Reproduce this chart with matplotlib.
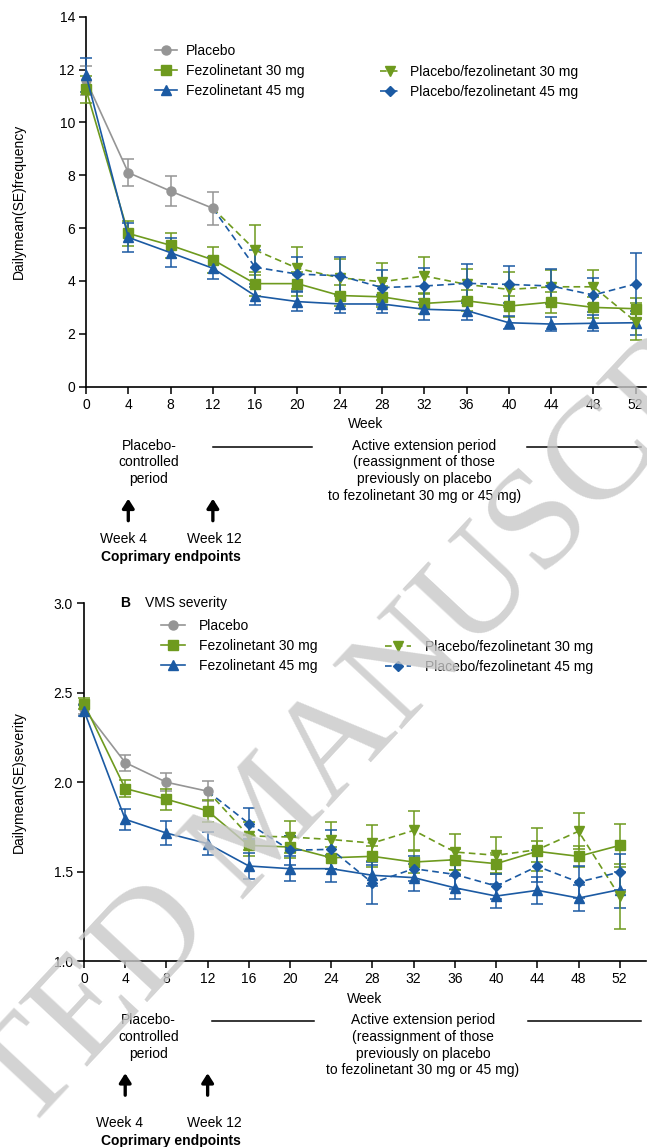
import matplotlib
matplotlib.use("Agg")
import matplotlib.pyplot as plt
from matplotlib.transforms import offset_copy

plt.rcParams["font.family"] = ["Liberation Sans", "DejaVu Sans"]
plt.rcParams["font.size"] = 10

weeks = [0, 4, 8, 12, 16, 20, 24, 28, 32, 36, 40, 44, 48, 52]
pc_weeks = weeks[:4]
ext_weeks = weeks[4:]
week_ticks = list(range(0, 53, 4))

labels = ["Placebo", "Fezolinetant 30 mg", "Fezolinetant 45 mg",
          "Placebo/fezolinetant 30 mg", "Placebo/fezolinetant 45 mg"]

# Panel A: VMS frequency
freq_pbo = [11.6, 8.1, 7.4, 6.75]
freq_pbo_se = [0.55, 0.52, 0.58, 0.63]
freq_30 = [11.25, 5.8, 5.35, 4.8, 3.9, 3.9, 3.45, 3.4, 3.15, 3.25, 3.05, 3.2, 3.0, 2.95]
freq_30_se = [0.5, 0.47, 0.48, 0.5, 0.45, 0.45, 0.4, 0.4, 0.4, 0.4, 0.4, 0.4, 0.4, 0.4]
freq_45 = [11.8, 5.65, 5.07, 4.48, 3.44, 3.22, 3.13, 3.13, 2.93, 2.88, 2.42, 2.37, 2.4, 2.42]
freq_45_se = [0.65, 0.55, 0.55, 0.42, 0.35, 0.35, 0.35, 0.35, 0.4, 0.35, 0.25, 0.27, 0.3, 0.45]
freq_pf30 = [5.17, 4.48, 4.12, 3.97, 4.19, 3.87, 3.68, 3.78, 3.78, 2.46]
freq_pf30_se = [0.95, 0.8, 0.7, 0.7, 0.7, 0.6, 0.65, 0.65, 0.65, 0.7]
freq_pf45 = [4.52, 4.26, 4.2, 3.75, 3.81, 3.91, 3.87, 3.81, 3.47, 3.89]
freq_pf45_se = [0.65, 0.63, 0.7, 0.65, 0.7, 0.75, 0.7, 0.65, 0.65, 1.15]

# Panel B: VMS severity
sev_pbo = [2.41, 2.11, 2.0, 1.95]
sev_pbo_se = [0.03, 0.045, 0.05, 0.055]
sev_30 = [2.44, 1.965, 1.905, 1.84, 1.647, 1.638, 1.578, 1.586, 1.554, 1.567, 1.545, 1.614, 1.586, 1.647]
sev_30_se = [0.03, 0.05, 0.058, 0.06, 0.06, 0.06, 0.06, 0.06, 0.06, 0.06, 0.06, 0.06, 0.06, 0.12]
sev_45 = [2.40, 1.793, 1.716, 1.657, 1.532, 1.517, 1.517, 1.48, 1.467, 1.41, 1.364, 1.396, 1.353, 1.40]
sev_45_se = [0.03, 0.06, 0.065, 0.065, 0.07, 0.07, 0.075, 0.06, 0.075, 0.065, 0.065, 0.075, 0.075, 0.1]
sev_pf30 = [1.70, 1.694, 1.68, 1.66, 1.731, 1.61, 1.592, 1.623, 1.726, 1.362]
sev_pf30_se = [0.08, 0.09, 0.1, 0.1, 0.11, 0.1, 0.1, 0.12, 0.1, 0.18]
sev_pf45 = [1.769, 1.62, 1.625, 1.437, 1.517, 1.485, 1.42, 1.53, 1.442, 1.498]
sev_pf45_se = [0.085, 0.08, 0.11, 0.117, 0.07, 0.08, 0.07, 0.09, 0.09, 0.1]

GRAY = "#959595"
GREEN = "#6e9a1e"
BLUE = "#1b5aa3"
DASH = (0, (4, 2.5))

W, H = 647, 1147
fig = plt.figure(figsize=(W / 100, H / 100), dpi=100)


def fpos(x, y):
    return x / W, 1 - y / H


def draw_panel(ax, pbo, pbo_se, f30, f30_se, f45, f45_se, pf30, pf30_se, pf45, pf45_se):
    specs = [
        (pc_weeks, pbo, pbo_se, GRAY, "o", "-", None),
        (weeks, f30, f30_se, GREEN, "s", "-", None),
        (weeks, f45, f45_se, BLUE, "^", "-", None),
        (ext_weeks, pf30, pf30_se, GREEN, "v", DASH, pbo[-1]),
        (ext_weeks, pf45, pf45_se, BLUE, "D", DASH, pbo[-1]),
    ]
    handles = []
    for x, y, se, color, marker, ls, start in specs:
        ax.errorbar(x, y, yerr=se, fmt="none", ecolor=color, elinewidth=1.1,
                    capsize=4, capthick=1.1, clip_on=False, zorder=3)
        if start is not None:
            ax.plot([pc_weeks[-1], x[0]], [start, y[0]], color=color, ls=ls, lw=1.2, zorder=2)
        ms = 5 if marker == "D" else 6.5
        line, = ax.plot(x, y, color=color, ls=ls, lw=1.2, marker=marker, ms=ms,
                        clip_on=False, zorder=4)
        handles.append(line)
    for side in ("top", "right"):
        ax.spines[side].set_visible(False)
    for side in ("left", "bottom"):
        ax.spines[side].set_linewidth(1.2)
    ax.tick_params(direction="out", length=5, width=1.1, labelsize=10, pad=3)
    ax.set_xticks(week_ticks)
    ax.set_xlabel("Week", fontsize=10, labelpad=4)
    return handles


def period_notes(ax, pos, low_drop):
    trans = ax.get_xaxis_transform()

    def at(dy):
        return offset_copy(trans, fig=fig, y=-dy, units="dots")

    ax.text(pos["pc"], 0, "Placebo-\ncontrolled\nperiod", transform=at(52),
            ha="center", va="top", linespacing=1.25, fontsize=10)
    ax.text(pos["ext"], 0,
            "Active extension period\n(reassignment of those\npreviously on placebo\n"
            "to fezolinetant 30 mg or 45 mg)",
            transform=at(52), ha="center", va="top", linespacing=1.25, fontsize=10)
    for x0, x1 in (pos["line1"], pos["line2"]):
        ax.plot([x0, x1], [0, 0], color="black", lw=1.1, transform=at(60), clip_on=False)
    for wk in (4, 12):
        ax.annotate("", xy=(pos["arrow"][wk], 0), xycoords=at(112),
                    xytext=(pos["arrow"][wk], 0), textcoords=at(134),
                    arrowprops=dict(arrowstyle="-|>,head_width=0.35,head_length=0.55",
                                    lw=2.4, color="black", shrinkA=0, shrinkB=0))
    ax.text(pos["wk4"], 0, "Week 4", transform=at(low_drop), ha="center", va="center", fontsize=10)
    ax.text(pos["wk12"], 0, "Week 12", transform=at(low_drop), ha="center", va="center", fontsize=10)
    ax.text(pos["cop"], 0, "Coprimary endpoints", transform=at(low_drop + 18),
            ha="center", va="center", fontsize=10, fontweight="bold")


# ---- Panel A ----
axA = fig.add_axes([86 / W, 1 - 386.7 / H, 560 / W, 370 / H])
hA = draw_panel(axA, freq_pbo, freq_pbo_se, freq_30, freq_30_se, freq_45, freq_45_se,
                freq_pf30, freq_pf30_se, freq_pf45, freq_pf45_se)
axA.set_xlim(0, 52.97)
axA.set_ylim(0, 14)
axA.set_yticks(range(0, 15, 2))
axA.set_ylabel("Dailymean(SE)frequency", fontsize=10, labelpad=24)
leg_kw = dict(frameon=False, borderpad=0, borderaxespad=0, fontsize=10,
              labelspacing=0.42, bbox_transform=fig.transFigure, loc="upper left")
axA.add_artist(axA.legend(hA[:3], labels[:3], bbox_to_anchor=fpos(155, 44),
                          handlelength=1.6, handletextpad=0.6, **leg_kw))
axA.legend(hA[3:], labels[3:], bbox_to_anchor=fpos(380, 65),
           handlelength=1.45, handletextpad=0.7, **leg_kw)
period_notes(axA, dict(pc=5.95, ext=32.0, line1=(12.0, 21.4), line2=(41.7, 52.5),
                       arrow={4: 4, 12: 12}, wk4=3.5, wk12=12.1, cop=8.0), 152)

# ---- Panel B ----
axB = fig.add_axes([84 / W, 1 - 961.2 / H, 562 / W, 357.9 / H])
hB = draw_panel(axB, sev_pbo, sev_pbo_se, sev_30, sev_30_se, sev_45, sev_45_se,
                sev_pf30, sev_pf30_se, sev_pf45, sev_pf45_se)
axB.set_xlim(0, 54.55)
axB.set_ylim(1.0, 3.0)
axB.set_yticks([1.0, 1.5, 2.0, 2.5, 3.0])
axB.set_yticklabels(["1.0", "1.5", "2.0", "2.5", "3.0"])
axB.set_ylabel("Dailymean(SE)severity", fontsize=10, labelpad=20)
axB.add_artist(axB.legend(hB[:3], labels[:3], bbox_to_anchor=fpos(161, 619),
                          handlelength=1.75, handletextpad=1.0, **leg_kw))
axB.legend(hB[3:], labels[3:], bbox_to_anchor=fpos(385, 640),
           handlelength=1.9, handletextpad=0.95, **leg_kw)
fig.text(*fpos(120, 603), "B", fontsize=10, fontweight="bold", ha="left", va="center")
fig.text(*fpos(145, 603), "VMS severity", fontsize=10, ha="left", va="center")
period_notes(axB, dict(pc=6.25, ext=32.9, line1=(12.4, 22.3), line2=(43.1, 54.1),
                       arrow={4: 4, 12: 12}, wk4=3.4, wk12=12.65, cop=8.4), 162)

# watermark over the figure
fig.text(*fpos(266, 824), "ACCEPTED MANUSCRIPT", rotation=47, rotation_mode="anchor",
         fontsize=104, family="Liberation Serif", color="#c8c8c8", alpha=0.8,
         ha="center", va="center", zorder=10)

fig.savefig("out.png", dpi=100)
